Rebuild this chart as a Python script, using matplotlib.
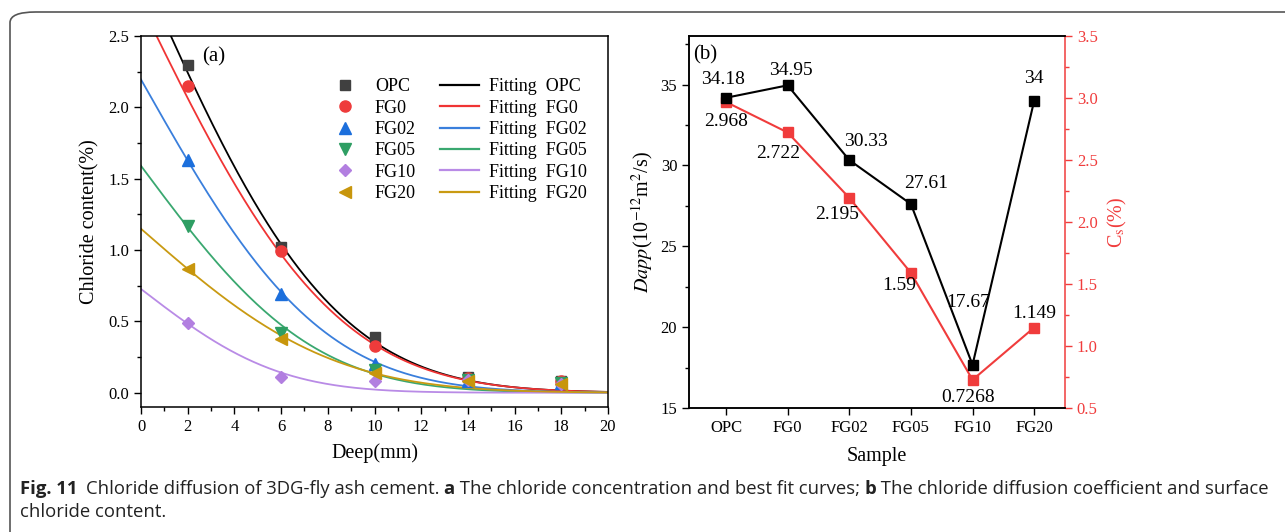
import math
import numpy as np
import matplotlib.pyplot as plt
from matplotlib.patches import FancyBboxPatch
from matplotlib.lines import Line2D
from matplotlib.ticker import MultipleLocator

plt.rcParams['font.family'] = ['Liberation Serif', 'DejaVu Serif']
plt.rcParams['mathtext.fontset'] = 'stix'

# ---- data ----
samples = ["OPC", "FG0", "FG02", "FG05", "FG10", "FG20"]
depth = [2, 6, 10, 14, 18]
opc = [2.30, 1.02, 0.39, 0.11, 0.08]
fg0 = [2.15, 0.99, 0.33, 0.10, 0.08]
fg02 = [1.63, 0.69, 0.20, 0.08, 0.07]
fg05 = [1.17, 0.42, 0.16, 0.09, 0.07]
fg10 = [0.49, 0.11, 0.08, 0.09, 0.06]
fg20 = [0.87, 0.38, 0.14, 0.08, 0.06]
dapp = [34.18, 34.95, 30.33, 27.61, 17.67, 34]
cs = [2.968, 2.722, 2.195, 1.59, 0.7268, 1.149]
dapp_lbl = ["34.18", "34.95", "30.33", "27.61", "17.67", "34"]
cs_lbl = ["2.968", "2.722", "2.195", "1.59", "0.7268", "1.149"]
t_exp = 7 * 24 * 3600  # exposure time, s

points = [opc, fg0, fg02, fg05, fg10, fg20]
mcol = ["#404040", "#ee3b3b", "#1c6fdc", "#2e9e63", "#b27fe0", "#c8960c"]
lcol = ["#000000", "#f03434", "#3a7fdc", "#3aa870", "#b98be6", "#c99a12"]
mk = ["s", "o", "^", "v", "D", "<"]
msz = [6.5, 8, 8, 8, 6.5, 8]

fig = plt.figure(figsize=(12.85, 5.32), dpi=100)

# outer rounded frame
frame = FancyBboxPatch((10 / 1285, -0.02), 1.05, 1 - 12 / 532 + 0.02,
                       boxstyle="round,pad=0,rounding_size=0.02",
                       transform=fig.transFigure, fill=False,
                       edgecolor="#555555", linewidth=1.2, clip_on=False)
fig.patches.append(frame)


def style_ticks(ax):
    ax.tick_params(which="both", direction="out", labelsize=12)
    ax.tick_params(which="major", length=5, width=1)
    ax.tick_params(which="minor", length=3, width=1)
    for s in ax.spines.values():
        s.set_linewidth(1.1)


# ---- panel (a) ----
ax1 = fig.add_axes([141 / 1285, 1 - 407 / 532, 467 / 1285, 371 / 532])
xx = np.linspace(0, 20, 300)
erfc = np.vectorize(math.erfc)
handles_m, handles_l = [], []
for i, name in enumerate(samples):
    L = 2 * math.sqrt(dapp[i] * 1e-12 * t_exp) * 1000  # mm
    ax1.plot(xx, cs[i] * erfc(xx / L), color=lcol[i], lw=1.3, zorder=2)
    ax1.plot(depth, points[i], ls="none", marker=mk[i], color=mcol[i],
             ms=msz[i], zorder=3)
    handles_m.append(Line2D([], [], ls="none", marker=mk[i], color=mcol[i], ms=msz[i]))
    handles_l.append(Line2D([], [], color=lcol[i], lw=1.6))
labels = samples + ["Fitting  " + s for s in samples]
ax1.legend(handles_m + handles_l, labels, ncol=2, frameon=False, fontsize=13,
           loc="upper right", bbox_to_anchor=(0.99, 0.93), handlelength=2.2,
           handletextpad=0.55, columnspacing=1.3, labelspacing=0.24)
ax1.set_xlim(0, 20)
ax1.set_ylim(-0.1, 2.5)
ax1.xaxis.set_major_locator(MultipleLocator(2))
ax1.xaxis.set_minor_locator(MultipleLocator(1))
ax1.yaxis.set_major_locator(MultipleLocator(0.5))
ax1.yaxis.set_minor_locator(MultipleLocator(0.25))
ax1.yaxis.set_major_formatter(plt.FormatStrFormatter("%.1f"))
style_ticks(ax1)
ax1.set_xlabel("Deep(mm)", fontsize=14.5, labelpad=6)
ax1.set_ylabel("Chloride content(%)", fontsize=14.5, labelpad=6)
ax1.text(0.13, 0.945, "(a)", transform=ax1.transAxes, fontsize=15, va="center")

# ---- panel (b) ----
ax2 = fig.add_axes([689 / 1285, 1 - 408 / 532, 376 / 1285, 372 / 532])
ax3 = ax2.twinx()
xs = np.arange(len(samples))
red = "#f03c3c"
ax2.plot(xs, dapp, color="black", marker="s", ms=7, lw=1.5, zorder=3)
ax3.plot(xs, cs, color=red, marker="s", ms=7, lw=1.5, zorder=2)
ax2.set_zorder(ax3.get_zorder() + 1)
ax2.patch.set_visible(False)

off_b = [(-3, 18), (3, 15), (17, 19), (15, 21), (-4, 62), (0, 22)]
off_r = [(0, -20), (-9, -21), (-12, -17), (-12, -13), (-4, -18), (0, 14)]
for i in range(len(samples)):
    ax2.annotate(dapp_lbl[i], (xs[i], dapp[i]), textcoords="offset pixels",
                 xytext=off_b[i], ha="center", va="center", fontsize=14)
    ax3.annotate(cs_lbl[i], (xs[i], cs[i]), textcoords="offset pixels",
                 xytext=off_r[i], ha="center", va="center", fontsize=14)

ax2.set_xlim(-0.6, 5.5)
ax2.set_ylim(15, 38)
ax3.set_ylim(0.5, 3.5)
ax2.set_xticks(xs)
ax2.set_xticklabels(samples)
ax2.yaxis.set_major_locator(MultipleLocator(5))
ax2.yaxis.set_minor_locator(MultipleLocator(2.5))
ax3.yaxis.set_major_locator(MultipleLocator(0.5))
ax3.yaxis.set_minor_locator(MultipleLocator(0.25))
ax3.yaxis.set_major_formatter(plt.FormatStrFormatter("%.1f"))
style_ticks(ax2)
style_ticks(ax3)
ax3.tick_params(which="both", colors=red)
ax3.spines["right"].set_color(red)
ax2.spines["right"].set_visible(False)
ax2.set_xlabel("Sample", fontsize=14.5, labelpad=8)
ax2.set_ylabel(r"$Dapp$(10$^{-12}$m$^{2}$/s)", fontsize=14.5, labelpad=4)
ax3.set_ylabel(r"C$_{\mathrm{s}}$(%)", fontsize=14.5, color=red, labelpad=6)
ax2.text(0.012, 0.95, "(b)", transform=ax2.transAxes, fontsize=15, va="center")

# ---- caption (pieces placed one after another) ----
cap_font = ['Open Sans', 'DejaVu Sans']
cap_size = 13.3
pieces = [("Fig. 11", "bold", 0), ("Chloride diffusion of 3DG-fly ash cement. ", "normal", 8),
          ("a", "bold", 0), (" The chloride concentration and best fit curves; ", "normal", 0),
          ("b", "bold", 0), (" The chloride diffusion coefficient and surface", "normal", 0)]
renderer = fig.canvas.get_renderer()
xpix = 20
for txt, wt, gap in pieces:
    xpix += gap
    t = fig.text(xpix / 1285, 1 - 494 / 532, txt, family=cap_font, weight=wt,
                 fontsize=cap_size, va="baseline", color="#222222")
    xpix += t.get_window_extent(renderer).width
fig.text(20 / 1285, 1 - 517 / 532, "chloride content.", family=cap_font,
         fontsize=cap_size, va="baseline", color="#222222")

fig.savefig("out.png", dpi=100)
